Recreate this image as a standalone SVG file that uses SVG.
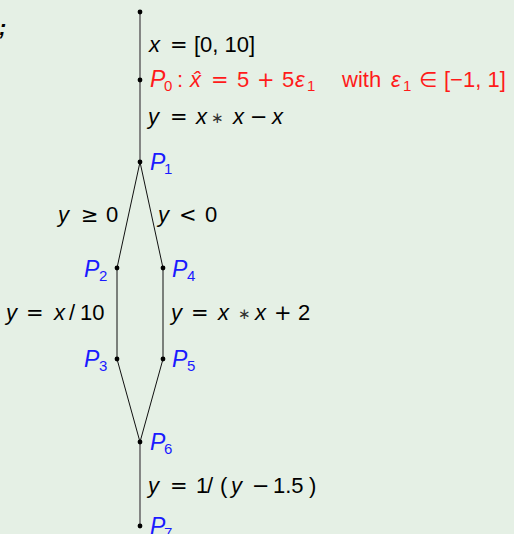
<svg xmlns="http://www.w3.org/2000/svg" width="514" height="534" viewBox="0 0 514 534">
<style>
text{font-family:"Liberation Sans","DejaVu Sans",sans-serif;font-size:22px;fill:#000}
.i{font-style:italic}
.o{font-family:"DejaVu Sans","Liberation Sans",sans-serif;font-size:21px}
.ast{font-family:"DejaVu Sans","Liberation Sans",sans-serif;font-size:15px;fill:#333}
.red{fill:#ff1a1a}
.blue{fill:#1a1aff}
.sub{font-size:15px;font-style:normal}
.P{font-size:23px;font-style:italic}
.trunk{stroke:#6b6b6b;stroke-width:1.6;fill:none}
.br{stroke:#111;stroke-width:1;fill:none}
.dot{fill:#000}
</style>
<rect width="514" height="534" fill="#e5f0e5"/>
<text x="-1" y="35" font-weight="bold" font-style="italic">;</text>
<g id="connectors">
<line class="trunk" x1="140" y1="12" x2="140" y2="162"/>
<line class="br" x1="140" y1="162" x2="117" y2="268"/>
<line class="br" x1="140" y1="162" x2="163" y2="268"/>
<line class="br" x1="117" y1="268" x2="117" y2="359"/>
<line class="br" x1="163" y1="268" x2="163" y2="359"/>
<line class="br" x1="117" y1="359" x2="140" y2="442"/>
<line class="br" x1="163" y1="359" x2="140" y2="442"/>
<line class="trunk" x1="140" y1="442" x2="140" y2="526"/>
</g>
<g id="edge-labels">
<g id="l-x">
<text x="149" y="52" class="i">x</text><text x="170" y="52" class="o">=</text><text x="194" y="52">[0, 10]</text>
</g>
<g id="l-y1">
<text x="148" y="124" class="i">y</text><text x="170" y="124" class="o">=</text><text x="196" y="124" class="i">x</text><text x="211" y="123" class="ast">∗</text><text x="233" y="124" class="i">x</text><text x="250" y="124" class="o">−</text><text x="272" y="124" class="i">x</text>
</g>
<g id="l-ge">
<text x="58" y="222" class="i">y</text><text x="81" y="222" class="o">≥</text><text x="106" y="222">0</text>
</g>
<g id="l-lt">
<text x="158" y="222" class="i">y</text><text x="179" y="222" class="o">&lt;</text><text x="205" y="222">0</text>
</g>
<g id="l-div">
<text x="6" y="320" class="i">y</text><text x="26" y="320" class="o">=</text><text x="54" y="320" class="i">x</text><text x="69" y="320">/</text><text x="80" y="320">10</text>
</g>
<g id="l-sq">
<text x="171" y="320" class="i">y</text><text x="191" y="320" class="o">=</text><text x="218" y="320" class="i">x</text><text x="238" y="319" class="ast">∗</text><text x="255" y="320" class="i">x</text><text x="274" y="320" class="o">+</text><text x="298" y="320">2</text>
</g>
<g id="l-inv">
<text x="148" y="493" class="i">y</text><text x="170" y="493" class="o">=</text><text x="196" y="493">1</text><text x="207" y="493">/</text><text x="220" y="493">(</text><text x="231" y="493" class="i">y</text><text x="252" y="493" class="o">−</text><text x="273" y="493">1.5</text><text x="309" y="493">)</text>
</g>
</g>
<g id="start"><circle class="dot" cx="140" cy="12" r="2.4"/></g>
<g id="P0">
<circle class="dot" cx="140" cy="80" r="2.4"/>
<text x="150" y="87" class="red P">P</text><text x="164" y="91" class="red sub">0</text><text x="177" y="87" class="red">:</text>
<text x="190" y="87" class="red i">x̂</text>
<text x="211" y="87" class="red o">=</text><text x="237" y="87" class="red">5</text><text x="257" y="87" class="red o">+</text><text x="282" y="87" class="red">5</text><text x="295" y="87" class="red i">ε</text><text x="307" y="91" class="red sub">1</text>
<text x="342" y="87" class="red">with</text><text x="391" y="87" class="red i">ε</text><text x="403" y="91" class="red sub">1</text><text x="419" y="87" class="red o">∈</text><text x="444" y="87" class="red">[−1, 1]</text>
</g>
<g id="P1"><circle class="dot" cx="140" cy="162" r="2.4"/><text x="150" y="170" class="blue P">P</text><text x="164" y="174" class="blue sub">1</text></g>
<g id="P2"><circle class="dot" cx="117" cy="268" r="2.4"/><text x="84" y="277" class="blue P">P</text><text x="99" y="281" class="blue sub">2</text></g>
<g id="P4"><circle class="dot" cx="163" cy="268" r="2.4"/><text x="172" y="277" class="blue P">P</text><text x="187" y="281" class="blue sub">4</text></g>
<g id="P3"><circle class="dot" cx="117" cy="359" r="2.4"/><text x="84" y="367" class="blue P">P</text><text x="99" y="371" class="blue sub">3</text></g>
<g id="P5"><circle class="dot" cx="163" cy="359" r="2.4"/><text x="172" y="367" class="blue P">P</text><text x="187" y="371" class="blue sub">5</text></g>
<g id="P6"><circle class="dot" cx="140" cy="442" r="2.4"/><text x="150" y="450" class="blue P">P</text><text x="164" y="454" class="blue sub">6</text></g>
<g id="P7"><circle class="dot" cx="140" cy="526" r="2.4"/><text x="150" y="534" class="blue P">P</text><text x="164" y="538" class="blue sub">7</text></g>
</svg>
